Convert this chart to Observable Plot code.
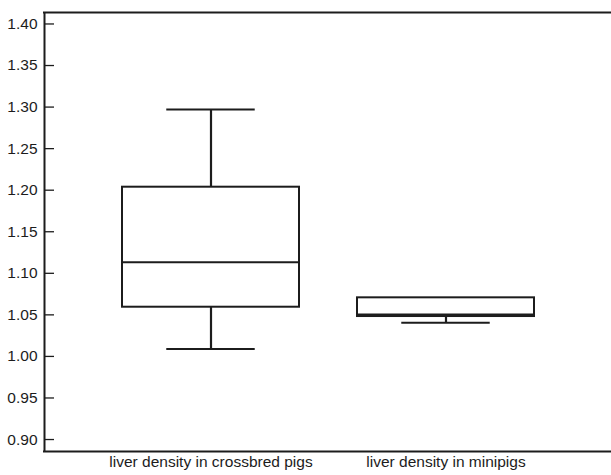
<!DOCTYPE html>
<html>
<head>
<meta charset="utf-8">
<script src="https://cdn.jsdelivr.net/npm/d3@7"></script>
<script src="https://cdn.jsdelivr.net/npm/@observablehq/plot@0.6"></script>
<style>
  html, body { margin: 0; padding: 0; background: #fff; overflow: hidden; }
  #chart svg { display: block; overflow: hidden; }
</style>
</head>
<body>
<div id="chart"></div>
<script>
const categories = ["liver density in crossbred pigs", "liver density in minipigs"];
const whiskerLow = [1.009, 1.0404];
const q1 = [1.0592, 1.048];
const median = [1.1134, 1.0504];
const q3 = [1.2036, 1.0705];
const whiskerHigh = [1.2971, 1.0705];
const yTicks = [0.90, 0.95, 1.00, 1.05, 1.10, 1.15, 1.20, 1.25, 1.30, 1.35, 1.40];
const yDomain = [0.8856, 1.4138];

const rows = categories.map((c, i) => ({
  cat: c, low: whiskerLow[i], q1: q1[i], med: median[i], q3: q3[i], high: whiskerHigh[i]
}));

const ink = "#1c1c1c";
const W = 611, H = 475, mL = 44, mR = 0;
const plotW = W - mL - mR;
const pi = 0.248, po = 0.328;
const step = plotW / (2 - pi + 2 * po);
const bw = step * (1 - pi);
const capInset = bw / 4;

const chart = Plot.plot({
  width: W,
  height: H,
  marginLeft: mL,
  marginRight: mR,
  marginTop: 12,
  marginBottom: 24,
  style: { fontFamily: "'Liberation Sans', Arial, sans-serif", fontSize: "15.5px", color: ink, background: "#fff" },
  x: { domain: categories, paddingInner: pi, paddingOuter: po, label: null },
  y: { domain: yDomain, label: null },
  marks: [
    Plot.ruleX([0], { x: null, y1: yDomain[0], y2: yDomain[1], dx: -plotW / 2, stroke: ink, strokeWidth: 2 }),
    Plot.ruleY(yDomain, { stroke: ink, strokeWidth: 2, insetLeft: -1 }),
    Plot.tickY(yTicks, { y: d => d, stroke: ink, strokeWidth: 1.3, insetRight: plotW - 10 }),
    Plot.axisY({ ticks: yTicks, tickFormat: d3.format(".2f"), tickSize: 0, tickPadding: 7, label: null, fontSize: 15.5 }),
    Plot.axisX({ tickSize: 0, tickPadding: 4, label: null, fontSize: 15.5 }),
    Plot.ruleX(rows, { x: "cat", y1: "low", y2: "high", stroke: ink, strokeWidth: 2.2 }),
    Plot.barY(rows, { x: "cat", y1: "q1", y2: "q3", fill: "#fff", stroke: ink, strokeWidth: 2 }),
    Plot.tickY(rows, { x: "cat", y: "med", stroke: ink, strokeWidth: 2 }),
    Plot.tickY(rows, { x: "cat", y: "low", stroke: ink, strokeWidth: 2, insetLeft: capInset, insetRight: capInset }),
    Plot.tickY(rows.filter(r => r.high > r.q3), { x: "cat", y: "high", stroke: ink, strokeWidth: 2, insetLeft: capInset, insetRight: capInset })
  ]
});
document.getElementById("chart").appendChild(chart);
</script>
</body>
</html>
